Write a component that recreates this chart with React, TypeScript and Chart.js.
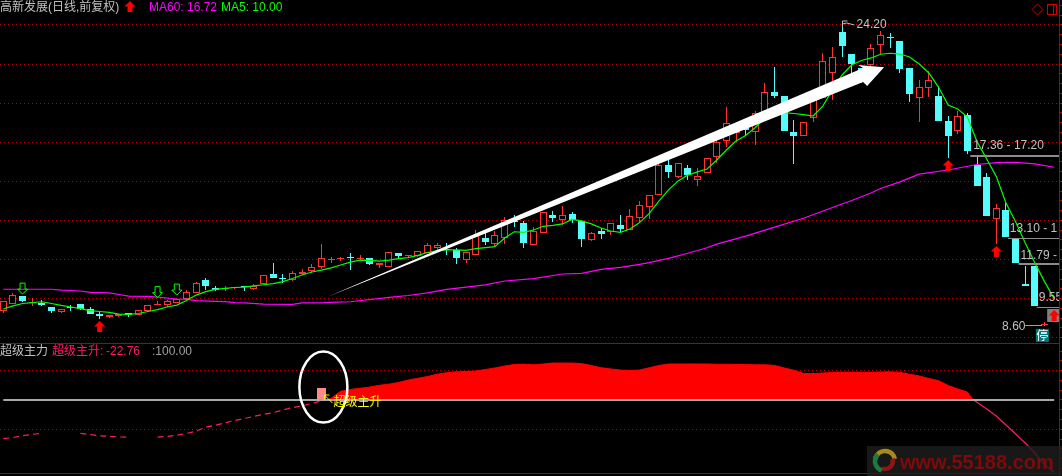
import React, { useEffect, useRef } from "react";
import { Chart, registerables } from "chart.js";

Chart.register(...registerables);

const OPENS = [
  9.37,9.74,10.13,9.80,9.78,9.56,9.33,9.56,9.72,9.45,
  9.20,9.06,9.13,9.25,9.15,9.37,9.65,9.69,9.79,9.98,
  10.30,10.94,10.53,10.50,10.53,10.63,10.49,10.73,11.26,11.03,
  10.94,11.27,11.40,11.63,11.95,12.03,12.09,12.03,12.06,11.72,
  11.63,12.32,12.16,12.18,12.32,12.59,12.53,12.49,11.99,12.24,
  13.10,12.81,13.11,13.94,13.85,12.76,13.37,14.28,14.02,14.33,
  13.97,13.01,13.46,13.39,13.76,13.52,14.14,14.70,15.31,16.83,
  16.24,16.68,16.08,16.41,17.26,18.08,18.46,18.79,18.54,19.49,
  20.58,20.36,18.52,18.33,19.25,20.25,21.52,23.62,22.51,21.80,
  21.95,22.96,23.36,23.18,21.78,20.25,20.79,20.36,19.08,18.59,
  19.39,16.83,16.22,14.06,14.53,13.05,10.73,11.67,8.65,
];
const CLOSES = [
  9.88,10.17,9.88,9.82,9.67,9.37,9.45,9.51,9.48,9.23,
  9.13,9.15,9.23,9.15,9.40,9.66,9.66,9.86,9.96,10.32,
  10.78,10.66,10.46,10.52,10.61,10.59,10.66,11.22,11.07,11.01,
  11.29,11.38,11.63,12.06,11.97,12.05,12.07,12.05,11.79,11.82,
  12.37,12.18,12.22,12.42,12.73,12.73,12.51,12.08,12.38,13.19,
  12.88,13.25,14.02,13.92,12.86,13.46,14.43,14.12,14.26,14.02,
  13.05,13.34,13.30,13.87,13.56,14.21,14.79,15.30,16.83,16.49,
  16.94,16.34,16.26,17.18,18.03,18.98,18.63,18.63,19.48,20.58,
  20.36,18.59,18.32,19.02,20.58,22.15,22.34,22.94,21.99,21.28,
  22.80,23.48,23.34,21.75,20.48,20.81,21.18,19.08,18.32,19.34,
  17.55,15.78,14.24,14.62,13.17,11.84,10.66,9.64,8.66,
];
const HIGHS = [
  9.88,10.27,10.13,10.02,9.93,9.56,9.45,9.66,9.72,9.57,
  9.30,9.15,9.23,9.25,9.40,9.66,9.88,9.93,9.96,10.42,
  10.83,11.04,10.63,10.63,10.61,10.63,10.73,11.22,11.82,11.24,
  11.40,11.50,11.76,12.79,12.11,12.11,12.32,12.23,12.06,11.82,
  12.37,12.32,12.22,12.42,12.84,12.83,12.84,12.59,12.38,13.51,
  13.34,13.46,14.19,14.28,13.98,13.65,14.43,14.48,14.74,14.43,
  13.97,13.42,13.60,13.87,14.28,14.58,14.99,15.30,17.24,17.40,
  16.94,16.83,16.68,17.18,18.21,19.80,18.78,18.79,19.60,21.01,
  21.86,20.36,19.14,19.02,20.60,22.58,22.89,24.20,22.51,21.80,
  23.02,23.69,23.57,23.18,21.78,21.18,21.64,20.87,19.34,19.60,
  19.51,17.30,16.41,14.84,14.91,13.05,11.67,11.67,8.78,
];
const LOWS = [
  9.28,9.74,9.83,9.62,9.61,9.26,9.28,9.37,9.40,9.23,
  8.96,9.02,9.07,9.07,9.15,9.37,9.65,9.57,9.76,9.98,
  10.30,10.44,10.37,10.39,10.48,10.39,10.44,10.73,11.07,10.81,
  10.90,11.22,11.33,11.50,11.81,11.94,11.46,12.00,11.72,11.58,
  11.63,12.01,12.11,12.12,12.32,12.49,12.23,11.77,11.82,12.24,
  12.74,12.66,12.79,13.65,12.59,12.76,13.37,13.92,13.76,13.88,
  12.64,12.95,13.05,13.25,13.37,13.52,13.90,14.07,15.31,16.17,
  16.17,16.07,15.78,16.41,16.94,17.77,18.03,18.32,17.86,19.49,
  20.28,18.59,16.89,18.33,19.05,20.25,20.16,22.37,21.52,21.04,
  21.86,22.46,22.80,21.56,20.07,19.05,20.30,19.08,17.21,18.44,
  17.40,15.78,14.24,12.79,13.17,11.84,10.66,9.64,8.60,
];

const MA5 = [
  9.47,9.63,9.75,9.80,9.84,9.75,9.65,9.57,9.49,9.39,
  9.34,9.30,9.21,9.19,9.24,9.34,9.44,9.57,9.67,9.90,
  10.18,10.36,10.47,10.52,10.57,10.59,10.65,10.71,10.77,10.87,
  11.03,11.21,11.36,11.46,11.57,11.72,11.87,11.97,11.96,11.92,
  11.97,12.05,12.10,12.21,12.36,12.45,12.49,12.49,12.47,12.56,
  12.61,12.66,13.10,13.42,13.39,13.51,13.70,13.75,13.82,14.05,
  13.98,13.82,13.61,13.46,13.39,13.56,13.89,14.36,14.99,15.56,
  16.02,16.32,16.48,16.63,17.09,17.60,18.06,18.34,18.75,19.24,
  19.49,19.51,19.47,19.41,19.34,19.85,20.67,21.44,21.95,22.18,
  22.31,22.50,22.55,22.51,22.36,22.00,21.54,20.82,19.90,19.70,
  19.29,18.03,17.14,16.24,14.89,13.93,12.84,11.82,10.87,10.00,
];

const MA60_AT = [
  0,5,6,8,9,11,12,13,15,16,18,19,20,22,23,24,25,27,30,31,33,34,36,
  40,42,44,46,50,52,55,58,60,62,64,66,67,69,71,73,74,77,80,83,86,88,
  90,91,93,95,98,101,103,105,107,109,
];
const MA60 = [
  10.48,10.48,10.43,10.39,10.32,10.29,10.21,10.13,10.11,10.08,9.98,9.96,9.90,9.86,9.85,9.80,9.78,9.72,9.71,9.78,9.78,9.81,9.84,
  10.06,10.16,10.29,10.47,10.70,10.90,11.02,11.26,11.29,11.50,11.60,11.75,11.84,12.06,12.32,12.60,12.79,13.20,13.66,14.11,14.66,15.02,
  15.40,15.63,15.97,16.37,16.58,16.86,16.96,16.97,16.89,16.72,
];

// 超级主升, one value per candle; null where the reference shows a gap
const MAIN_LOW = [
  34,36,39,41.5,43.2,null,null,null,43.2,41,
  39,38,37,36.4,null,null,36.8,38,39.8,43,
  47,53.5,57,61,65,68.5,72,75.5,78.5,83,
  87,90.5,94,98.5,100,
];
const MAIN_HIGH_FROM = 34;
const MAIN_HIGH = [
  103,115,118,120,122,125,127,130,134,137,
  140,144,146.5,148,148.6,149.4,152,154.6,158,160.5,
  161,160,161.4,163,163,163,162,158.8,155,153,
  151,150.3,151,155,158.8,161.4,161.4,161.4,161.4,161.4,
  161,161,160.5,160.4,160,160,159,154.6,150.8,145,
  145,146,146.7,147,147,146.7,147,147.7,148,147,
  144,141,136.7,133,124.7,118.8,113.6,
];
const MAIN_FALL_FROM = 101;
const MAIN_FALL = [96,84.7,72.7,57.4,42,26.7,9.6,-11,-22.76];
const MAIN_BLOCK = { i: 33, from: 100, to: 120.5 };
const REFERENCE_LEVEL = 100;

const PRICE_MIN = 7.73;
const PRICE_MAX = 25.274;
const MAIN_MIN = -24.5;
const MAIN_MAX = 197.2;

const TITLE = "高新发展(日线,前复权)";
const PANE_TITLE = "超级主力";
const SERIES_NAME = "超级主升";

const RED_ARROWS = [
  { i: 10, p: 8.85 },
  { i: 98, p: 17.09 },
  { i: 103, p: 12.69 },
];
const GREEN_ARROWS = [
  { i: 2, p: 10.23 },
  { i: 16, p: 10.05 },
  { i: 18, p: 10.18 },
];
const GAP_LINES = [
  { i: 100.3, p: 17.31, w: 2 },
  { i: 104.2, p: 13.1, w: 1 },
  { i: 105.3, p: 11.75, w: 2 },
  { i: 107.2, p: 9.57, w: 1 },
];
const PRICE_LABELS = [
  { text: "24.20", i: 88.5, p: 24.0 },
  { text: "17.36 - 17.20", i: 100.6, p: 17.81 },
  { text: "13.10 - 1", i: 104.4, p: 13.56 },
  { text: "11.79 -", i: 105.5, p: 12.18 },
  { text: "9.55", i: 107.4, p: 10.03 },
  { text: "8.60", i: 103.6, p: 8.55 },
];
const BIG_ARROW = [
  [33.58, 10.08], [89.18, 21.8], [88.66, 21.95], [91.36, 21.83],
  [89.6, 20.87], [89.18, 21.08],
];

const isUp = (i: number) => CLOSES[i] >= OPENS[i];
const RED = "#ff3232";
const CYAN = "#54fcfc";
const GRID = "#c00000";
const FRAME = "#b00000";
const GRAY = "#c0c0c0";
const PINK = "#ff1a66";
const LATIN = '"Liberation Sans", "Noto Sans CJK SC", sans-serif';

const snapBars = {
  id: "snapBars",
  afterDatasetsUpdate(chart: any) {
    chart.data.datasets.forEach((ds: any, idx: number) => {
      if (ds.type !== "bar") return;
      const odd = (ds.barThickness ?? 1) % 2 === 1;
      chart.getDatasetMeta(idx).data.forEach((el: any) => {
        el.x = odd ? Math.floor(el.x) + 0.5 : Math.round(el.x);
        let top = Math.round(Math.min(el.y, el.base));
        let bottom = Math.round(Math.max(el.y, el.base));
        if (bottom <= top) bottom = top + 1;
        el.y = top;
        el.base = bottom;
        el.height = bottom - top;
      });
    });
  },
};

function text(ctx: any, s: string, x: number, y: number, color: string, font: string) {
  ctx.fillStyle = color;
  ctx.font = font;
  ctx.textBaseline = "middle";
  ctx.textAlign = "left";
  ctx.fillText(s, x, y);
}

function redArrow(ctx: any, cx: number, top: number) {
  ctx.fillStyle = "#ff0000";
  ctx.beginPath();
  ctx.moveTo(cx, top);
  ctx.lineTo(cx + 5.5, top + 5.5);
  ctx.lineTo(cx + 2.5, top + 5.5);
  ctx.lineTo(cx + 2.5, top + 11);
  ctx.lineTo(cx - 2.5, top + 11);
  ctx.lineTo(cx - 2.5, top + 5.5);
  ctx.lineTo(cx - 5.5, top + 5.5);
  ctx.closePath();
  ctx.fill();
}

function greenArrow(ctx: any, cx: number, tip: number) {
  ctx.strokeStyle = "#00ff00";
  ctx.lineWidth = 1;
  ctx.beginPath();
  ctx.moveTo(cx, tip);
  ctx.lineTo(cx + 5, tip - 5);
  ctx.lineTo(cx + 2.5, tip - 5);
  ctx.lineTo(cx + 2.5, tip - 11);
  ctx.lineTo(cx - 2.5, tip - 11);
  ctx.lineTo(cx - 2.5, tip - 5);
  ctx.lineTo(cx - 5, tip - 5);
  ctx.closePath();
  ctx.stroke();
}

const overlay = {
  id: "overlay",
  beforeDraw(chart: any) {
    const { ctx, width, height } = chart;
    ctx.save();
    ctx.fillStyle = "#000";
    ctx.fillRect(0, 0, width, height);
    ctx.restore();
  },
  afterDatasetsDraw(chart: any) {
    const { ctx, chartArea, scales, height } = chart;
    const X = (i: number) => scales.x.getPixelForValue(i);
    const Y = (p: number) => scales.y.getPixelForValue(p);
    const Y2 = (v: number) => scales.y2.getPixelForValue(v);
    const right = chartArea.right;
    ctx.save();

    // pane frame
    ctx.strokeStyle = FRAME;
    ctx.lineWidth = 1;
    ctx.setLineDash([]);
    [scales.y2.top, scales.y2.bottom].forEach((y: number) => {
      ctx.beginPath();
      ctx.moveTo(0, Math.round(y) + 0.5);
      ctx.lineTo(right, Math.round(y) + 0.5);
      ctx.stroke();
    });
    ctx.beginPath();
    ctx.moveTo(Math.round(right) + 0.5, 0);
    ctx.lineTo(Math.round(right) + 0.5, height);
    ctx.stroke();

    // thick white trend arrow
    ctx.fillStyle = "#ffffff";
    ctx.beginPath();
    BIG_ARROW.forEach(([i, p], k) => (k ? ctx.lineTo(X(i), Y(p)) : ctx.moveTo(X(i), Y(p))));
    ctx.closePath();
    ctx.fill();

    RED_ARROWS.forEach((a) => redArrow(ctx, X(a.i), Y(a.p)));
    GREEN_ARROWS.forEach((a) => greenArrow(ctx, X(a.i), Y(a.p)));

    // price annotations, clipped by the right edge of the pane
    ctx.save();
    ctx.beginPath();
    ctx.rect(0, 0, right, scales.y.bottom);
    ctx.clip();
    ctx.fillStyle = "#808080";
    ctx.fillRect(X(109) - 7, Y(9.47), 12, 13);
    redArrow(ctx, X(109), Y(9.47) + 1);
    GAP_LINES.forEach((g) => {
      ctx.fillStyle = "#8c8c8c";
      ctx.fillRect(X(g.i), Math.round(Y(g.p)) - (g.w > 1 ? 1 : 0), right - X(g.i), g.w);
    });
    PRICE_LABELS.forEach((l) => text(ctx, l.text, X(l.i), Y(l.p), GRAY, `12px ${LATIN}`));
    ctx.restore();

    // flag of the high
    ctx.strokeStyle = GRAY;
    ctx.lineWidth = 1;
    ctx.beginPath();
    const fx = Math.floor(X(87)) + 0.5;
    ctx.moveTo(fx, Y(24.2));
    ctx.lineTo(fx, Y(24.2) + 6);
    ctx.moveTo(fx, Y(24.2));
    ctx.lineTo(fx + 5, Y(24.2));
    ctx.moveTo(fx, Y(24.2) + 3);
    ctx.lineTo(fx + 4, Y(24.2) + 2);
    ctx.lineTo(fx + 12, Y(24.2) + 4);
    ctx.stroke();

    // arrow to the low
    ctx.strokeStyle = "#a0a0a0";
    ctx.beginPath();
    ctx.moveTo(X(106), Math.round(Y(8.65)) + 0.5);
    ctx.lineTo(X(107.75), Math.round(Y(8.65)) + 0.5);
    ctx.stroke();

    // 停 badge
    ctx.fillStyle = "#007a7a";
    ctx.fillRect(X(107.1), Y(8.45), 13, 13);
    text(ctx, "停", X(107.1) + 0.5, Y(8.45) + 6.5, "#ffffff", '12px "Noto Sans CJK SC"');

    // header
    text(ctx, TITLE, 0, 8, GRAY, `12px ${LATIN}`);
    redArrow(ctx, 130, 1);
    text(ctx, `MA60: ${MA60[MA60.length - 1].toFixed(2)}`, 149, 8, "#ff00ff", `12px ${LATIN}`);
    text(ctx, `MA5: ${MA5[MA5.length - 1].toFixed(2)}`, 221, 8, "#00ff00", `12px ${LATIN}`);

    // window buttons
    ctx.strokeStyle = "#d00000";
    ctx.beginPath();
    ctx.moveTo(1037.5, 4);
    ctx.lineTo(1043, 9.5);
    ctx.lineTo(1037.5, 15);
    ctx.lineTo(1032, 9.5);
    ctx.closePath();
    ctx.moveTo(1053.5, 4.5);
    ctx.lineTo(1053.5, 14.5);
    ctx.stroke();
    ctx.strokeRect(1047.5, 4.5, 9, 10);

    // lower pane header
    const ty = scales.y2.top + 9;
    text(ctx, PANE_TITLE, 0, ty, GRAY, `12px ${LATIN}`);
    text(ctx, SERIES_NAME + ":", 52, ty, PINK, `12px ${LATIN}`);
    text(ctx, MAIN_FALL[MAIN_FALL.length - 1].toFixed(2), 106, ty, PINK, `12px ${LATIN}`);
    text(ctx, ":" + REFERENCE_LEVEL.toFixed(2), 152, ty, "#a0a0a0", `12px ${LATIN}`);

    // circled start of the rise
    ctx.strokeStyle = "#ffffff";
    ctx.lineWidth = 2.5;
    ctx.beginPath();
    ctx.ellipse(X(33.2), Y2(122), 24, 35.5, 0, 0, Math.PI * 2);
    ctx.stroke();

    // yellow pointer
    const px = X(33.2);
    const py = Y2(REFERENCE_LEVEL);
    ctx.strokeStyle = "#ffff00";
    ctx.lineWidth = 1;
    ctx.beginPath();
    ctx.moveTo(px + 9, py + 3);
    ctx.lineTo(px + 1, py - 5);
    ctx.moveTo(px + 1, py - 5);
    ctx.lineTo(px + 1, py);
    ctx.moveTo(px + 1, py - 5);
    ctx.lineTo(px + 6, py - 5);
    ctx.stroke();
    text(ctx, SERIES_NAME, px + 10, py + 1, "#ffff00", '12px "Noto Sans CJK SC"');

    // watermark
    ctx.fillStyle = "rgba(30,30,30,0.8)";
    ctx.fillRect(867, 446, 195, 30);
    ctx.lineWidth = 4.5;
    [
      ["#a88a1c", -2.9, -0.2, 10],
      ["#8e1616", -0.3, 2.0, 8],
      ["#1b7a42", 1.9, 3.9, 10],
    ].forEach(([c, a, b, r]: any) => {
      ctx.strokeStyle = c;
      ctx.beginPath();
      ctx.arc(885, 461, r, a, b);
      ctx.stroke();
    });
    text(ctx, "www.55188.com", 900, 463, "#7d0b0b", `bold 20px ${LATIN}`);

    ctx.restore();
  },
};

export default function App() {
  const ref = useRef<HTMLCanvasElement | null>(null);
  useEffect(() => {
    document.body.style.margin = "0";
    document.body.style.background = "#000";
    const idx = OPENS.map((_, i) => i);
    const chart = new Chart(ref.current as HTMLCanvasElement, {
      type: "bar",
      data: {
        datasets: [
          {
            type: "bar",
            label: "wick",
            grouped: false,
            order: 20,
            barThickness: 1,
            inflateAmount: 0,
            xAxisID: "x",
            yAxisID: "y",
            data: idx.map((i) => ({ x: i, y: [LOWS[i], HIGHS[i]] })),
            backgroundColor: idx.map((i) => (isUp(i) ? RED : CYAN)),
            borderWidth: 0,
          },
          {
            type: "bar",
            label: "body",
            grouped: false,
            order: 10,
            barThickness: 7,
            minBarLength: 1,
            inflateAmount: 0,
            xAxisID: "x",
            yAxisID: "y",
            data: idx.map((i) => ({ x: i, y: [OPENS[i], CLOSES[i]] })),
            backgroundColor: idx.map((i) => (isUp(i) ? "#000000" : CYAN)),
            borderColor: idx.map((i) => (isUp(i) ? RED : CYAN)),
            borderWidth: 1,
            borderSkipped: false,
          },
          {
            type: "line",
            label: "MA60",
            order: 6,
            xAxisID: "x",
            yAxisID: "y",
            data: MA60_AT.map((i, k) => ({ x: i, y: MA60[k] })),
            borderColor: "#ff00ff",
            borderWidth: 1.2,
            pointRadius: 0,
            tension: 0,
          },
          {
            type: "line",
            label: "MA5",
            order: 5,
            xAxisID: "x",
            yAxisID: "y",
            data: MA5.map((v, i) => ({ x: i, y: v })),
            borderColor: "#00ff00",
            borderWidth: 1.2,
            pointRadius: 0,
            tension: 0,
          },
          {
            type: "line",
            label: "rise",
            order: 4,
            xAxisID: "x",
            yAxisID: "y2",
            data: [
              { x: 33.6, y: REFERENCE_LEVEL },
              ...MAIN_HIGH.map((v, k) => ({ x: MAIN_HIGH_FROM + k, y: v })),
              { x: 100.6, y: REFERENCE_LEVEL },
            ],
            borderColor: "#ff0000",
            backgroundColor: "#ff0000",
            borderWidth: 1,
            pointRadius: 0,
            tension: 0,
            fill: { value: REFERENCE_LEVEL },
          },
          {
            type: "line",
            label: "low",
            order: 3,
            xAxisID: "x",
            yAxisID: "y2",
            data: MAIN_LOW.map((v, i) => ({ x: i, y: v })),
            borderColor: PINK,
            borderWidth: 1.2,
            borderDash: [6, 4],
            pointRadius: 0,
            tension: 0,
            spanGaps: false,
          },
          {
            type: "line",
            label: "fall",
            order: 3,
            xAxisID: "x",
            yAxisID: "y2",
            data: [
              { x: 100.6, y: REFERENCE_LEVEL },
              ...MAIN_FALL.map((v, k) => ({ x: MAIN_FALL_FROM + k, y: v })),
            ],
            borderColor: PINK,
            borderWidth: 1.2,
            pointRadius: 0,
            tension: 0,
          },
          {
            type: "bar",
            label: "start",
            grouped: false,
            order: 2,
            barThickness: 9,
            inflateAmount: 0,
            xAxisID: "x",
            yAxisID: "y2",
            data: [{ x: MAIN_BLOCK.i, y: [MAIN_BLOCK.from, MAIN_BLOCK.to] }],
            backgroundColor: "#ff8a8a",
            borderWidth: 0,
          },
          {
            type: "line",
            label: "level",
            order: 1,
            xAxisID: "x",
            yAxisID: "y2",
            data: [
              { x: 0, y: REFERENCE_LEVEL },
              { x: 109, y: REFERENCE_LEVEL },
            ],
            borderColor: "#a8a8a8",
            borderWidth: 2,
            pointRadius: 0,
          },
        ],
      } as any,
      options: {
        responsive: false,
        animation: false,
        devicePixelRatio: 1,
        events: [],
        layout: { padding: { left: 0, right: 0, top: 0, bottom: 3 } },
        plugins: { legend: { display: false }, tooltip: { enabled: false }, title: { display: false } },
        scales: {
          x: {
            type: "linear",
            min: -0.342,
            max: 109.5,
            offset: false,
            display: false,
            grid: { display: false },
          },
          y: {
            type: "linear",
            position: "right",
            stack: "panes",
            stackWeight: 343,
            min: PRICE_MIN,
            max: PRICE_MAX,
            ticks: { display: false, stepSize: 0.5, includeBounds: false, autoSkip: false },
            grid: {
              color: (c: any) => (Math.abs(c.tick.value % 2) < 0.001 ? GRID : "rgba(0,0,0,0)"),
              tickColor: GRID,
              tickLength: 3,
              tickBorderDash: [],
            },
            border: { color: FRAME, dash: [1, 3] },
          },
          y2: {
            type: "linear",
            position: "right",
            stack: "panes",
            stackWeight: 130,
            min: MAIN_MIN,
            max: MAIN_MAX,
            ticks: { display: false, stepSize: 50 / 3, includeBounds: false, autoSkip: false },
            grid: {
              color: (c: any) => {
                const v = Math.round(c.tick.value * 100) / 100;
                return v === 50 || v === 150 ? GRID : "rgba(0,0,0,0)";
              },
              tickColor: GRID,
              tickLength: 3,
              tickBorderDash: [],
            },
            border: { color: FRAME, dash: [1, 3] },
          },
        },
      } as any,
      plugins: [snapBars, overlay] as any,
    });
    return () => chart.destroy();
  }, []);
  return (
    <canvas
      ref={ref}
      width={1062}
      height={476}
      style={{ display: "block", position: "absolute", left: 0, top: 0, width: 1062, height: 476 }}
    />
  );
}
